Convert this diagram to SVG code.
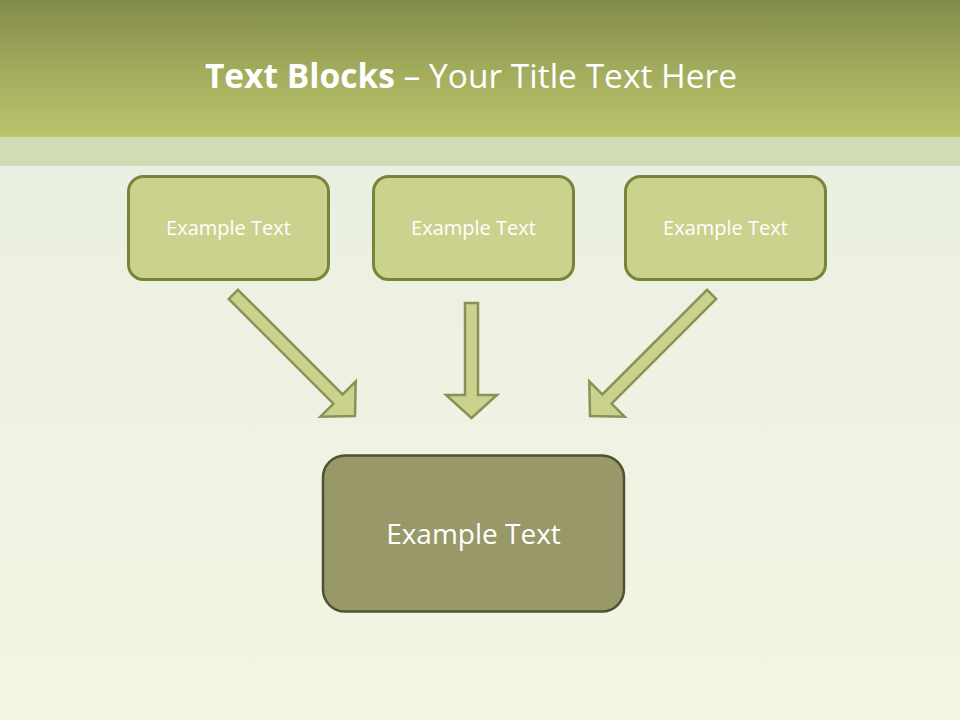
<svg xmlns="http://www.w3.org/2000/svg" width="960" height="720" viewBox="0 0 960 720">
<defs>
<linearGradient id="hdr" x1="0" y1="0" x2="0" y2="1">
<stop offset="0" stop-color="#838b4b"/>
<stop offset="0.5" stop-color="#a1ab5c"/>
<stop offset="1" stop-color="#bcc56c"/>
</linearGradient>
<linearGradient id="bg" x1="0" y1="0" x2="0" y2="1">
<stop offset="0" stop-color="#e5ede2"/>
<stop offset="0.5" stop-color="#eef2e2"/>
<stop offset="1" stop-color="#f3f5e4"/>
</linearGradient>
</defs>
<style>
.box{fill:#cbd28e;stroke:#7a8438;stroke-width:3}
.big{fill:#999868;stroke:#4f5230;stroke-width:2.5}
.lbl{font-family:"Open Sans","Noto Sans",sans-serif;fill:#ffffff;text-anchor:middle}
.arr{fill:#cbd28e;stroke:#8a9158;stroke-width:2.5;stroke-linejoin:miter}
</style>
<rect x="0" y="0" width="960" height="720" fill="url(#bg)"/>
<rect x="0" y="0" width="960" height="137" fill="url(#hdr)"/>
<rect x="0" y="137" width="960" height="29" fill="#d1dcb6"/>
<text x="471" y="88" font-family="'Open Sans','Noto Sans',sans-serif" font-size="33.5" fill="#ffffff" text-anchor="middle"><tspan font-weight="bold">Text Blocks</tspan> – Your Title Text Here</text>

<g id="connectors">
<path class="arr" d="M-172,-6.5 L-24,-6.5 L-24,-25 L0,0 L-24,25 L-24,6.5 L-172,6.5 Z" transform="translate(355,416) rotate(45)"/>
<path class="arr" d="M-115,-6.5 L-23,-6.5 L-23,-25.5 L0,0 L-23,25.5 L-23,6.5 L-115,6.5 Z" transform="translate(471.5,418) rotate(90)"/>
<path class="arr" d="M-172,-6.5 L-24,-6.5 L-24,-25 L0,0 L-24,25 L-24,6.5 L-172,6.5 Z" transform="translate(590,416) rotate(135)"/>
</g>

<g id="node1">
<rect class="box" x="128.5" y="176.5" width="200" height="103" rx="15"/>
<text class="lbl" x="228.5" y="235" font-size="20">Example Text</text>
</g>
<g id="node2">
<rect class="box" x="373.5" y="176.5" width="200" height="103" rx="15"/>
<text class="lbl" x="473.5" y="235" font-size="20">Example Text</text>
</g>
<g id="node3">
<rect class="box" x="625.5" y="176.5" width="200" height="103" rx="15"/>
<text class="lbl" x="725.5" y="235" font-size="20">Example Text</text>
</g>
<g id="node4">
<rect class="big" x="323" y="455.5" width="301" height="156" rx="22"/>
<text class="lbl" x="473.5" y="544" font-size="28">Example Text</text>
</g>
</svg>
